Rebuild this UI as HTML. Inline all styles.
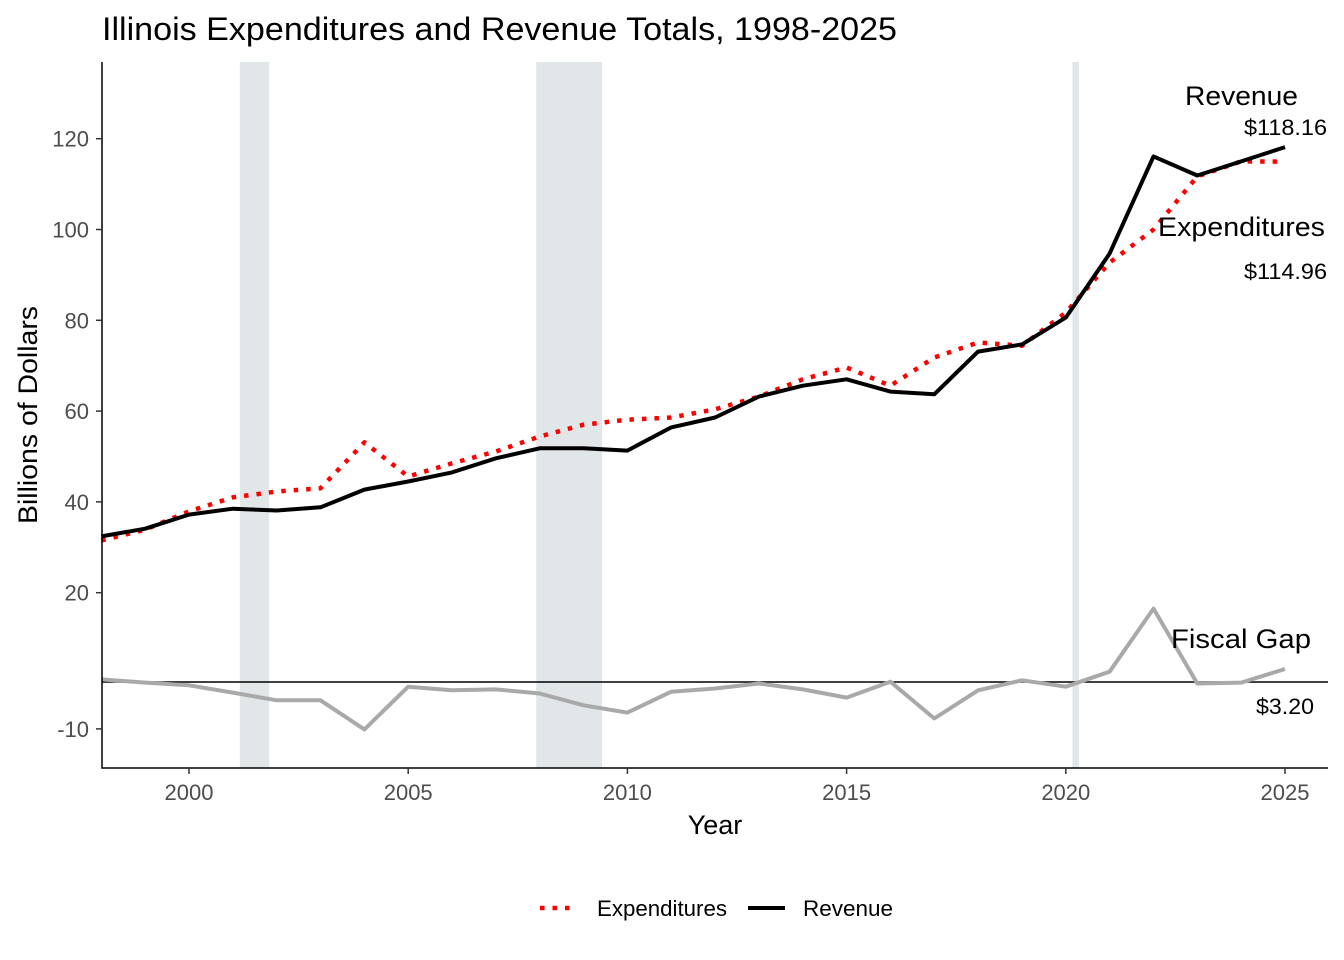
<!DOCTYPE html>
<html><head><meta charset="utf-8"><style>
body{margin:0;background:#fff;}
svg{display:block;font-family:"Liberation Sans",Arial,sans-serif;}
</style></head><body>
<svg id="chart" width="1344" height="960" viewBox="0 0 1344 960"></svg>
<script>
const years=[1998,1999,2000,2001,2002,2003,2004,2005,2006,2007,2008,2009,2010,2011,2012,2013,2014,2015,2016,2017,2018,2019,2020,2021,2022,2023,2024,2025];
const revenue=[32.4,34.1,37.2,38.5,38.1,38.8,42.7,44.5,46.5,49.6,51.8,51.8,51.3,56.4,58.6,63.2,65.6,67,64.3,63.7,73.1,74.7,80.6,94.7,116.1,111.9,115,118.16];
const expenditures=[31.5,33.9,37.9,41,42.3,43,53.1,45.6,48.5,51.1,54.4,57,58.1,58.6,60.4,63.2,67,69.6,65.6,71.8,75.1,74.4,81.7,92.7,100,111.7,115,114.96];
const fiscalGap=[0.9,0.2,-0.4,-2,-3.7,-3.7,-10.1,-0.7,-1.5,-1.3,-2.2,-4.8,-6.4,-1.8,-1.1,0,-1.3,-3.1,0.4,-7.7,-1.5,0.7,-0.7,2.6,16.5,0,0.2,3.2];
const recessions=[[2001.16,2001.83],[2007.92,2009.42],[2020.15,2020.3]];
const xTicks=[2000,2005,2010,2015,2020,2025];
const yTicks=[-10,20,40,60,80,100,120];

const NS="http://www.w3.org/2000/svg";
const svg=document.getElementById('chart');
const x=v=>189+(v-2000)*43.84;
const y=v=>683.5-v*4.54;
function mk(tag,attrs,parent){const e=document.createElementNS(NS,tag);for(const k in attrs)e.setAttribute(k,attrs[k]);(parent||svg).appendChild(e);return e;}
function txt(s,attrs){const e=mk('text',attrs);e.textContent=s;return e;}

recessions.forEach(r=>{
  const e=mk('rect',{x:x(r[0]),y:62,width:x(r[1])-x(r[0]),height:706,fill:'#e1e6e9'});
  
  
});
const zl=mk('line',{x1:102,x2:1328,y1:682,y2:682,stroke:'#000','stroke-width':1.5});



function line(vals,attrs,name){
  const d=vals.map((v,i)=>(i?'L':'M')+x(years[i]).toFixed(1)+','+y(v).toFixed(1)).join('');
  const e=mk('path',Object.assign({d:d,fill:'none','stroke-linejoin':'round'},attrs));
  
  
}
line(fiscalGap,{stroke:'#a9a9a9','stroke-width':4},'fiscal-gap-line');
line(expenditures,{stroke:'#ff0000','stroke-width':4.5,'stroke-dasharray':'4.5 8'},'expenditures-line');
line(revenue,{stroke:'#000','stroke-width':4},'revenue-line');

const ax=mk('path',{d:'M102,62V768H1328',fill:'none',stroke:'#000','stroke-width':1.5});


xTicks.forEach(t=>{
  mk('line',{x1:x(t),x2:x(t),y1:768,y2:774,stroke:'#333','stroke-width':1.5});
  const e=txt(t,{x:x(t),y:800,'text-anchor':'middle','font-size':22,fill:'#4d4d4d'});
  
  
});
yTicks.forEach(t=>{
  mk('line',{x1:96,x2:102,y1:y(t),y2:y(t),stroke:'#333','stroke-width':1.5});
  const e=txt(t,{x:89,y:y(t)+8,'text-anchor':'end','font-size':22,fill:'#4d4d4d'});
  
  
});
</script>
<svg style="position:absolute;left:0;top:0" width="1344" height="960" font-family="Liberation Sans,sans-serif">
<text x="102" y="40" font-size="32" textLength="795" lengthAdjust="spacingAndGlyphs">Illinois Expenditures and Revenue Totals, 1998-2025</text>
<text x="715" y="834" font-size="27" text-anchor="middle">Year</text>
<text transform="translate(37,415) rotate(-90)" font-size="27" text-anchor="middle" textLength="218" lengthAdjust="spacingAndGlyphs">Billions of Dollars</text>
<text x="1185" y="105" font-size="27" textLength="113" lengthAdjust="spacingAndGlyphs">Revenue</text>
<text x="1244" y="135" font-size="22" textLength="83" lengthAdjust="spacingAndGlyphs">$118.16</text>
<text x="1158" y="236" font-size="27" textLength="167" lengthAdjust="spacingAndGlyphs">Expenditures</text>
<text x="1244" y="279" font-size="22" textLength="83" lengthAdjust="spacingAndGlyphs">$114.96</text>
<text x="1171" y="648" font-size="27" textLength="140" lengthAdjust="spacingAndGlyphs">Fiscal Gap</text>
<text x="1256" y="714" font-size="22" textLength="58" lengthAdjust="spacingAndGlyphs">$3.20</text>
<g>
<line x1="540" x2="572" y1="908" y2="908" stroke="#ff0000" stroke-width="4.5" stroke-dasharray="4.5 8"/>
<text x="597" y="916" font-size="22" textLength="130" lengthAdjust="spacingAndGlyphs">Expenditures</text>
<line x1="748" x2="785" y1="908" y2="908" stroke="#000" stroke-width="4"/>
<text x="803" y="916" font-size="22" textLength="90" lengthAdjust="spacingAndGlyphs">Revenue</text>
</g>
</svg>
</body></html>
